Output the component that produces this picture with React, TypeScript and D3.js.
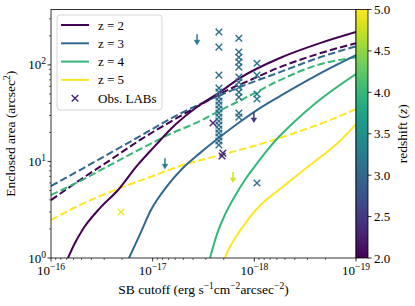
import React from "react";
import * as d3 from "d3";

// ---------- data (SB cutoff [erg s^-1 cm^-2 arcsec^-2], enclosed area [arcsec^2]) ----------
const modelZ2Solid: [number, number][] = [
  [6.81e-17, 1.0], [5.81e-17, 1.43], [4.84e-17, 2.0], [3.3e-17, 3.29], [2.19e-17, 5.06],
  [1.43e-17, 9.0], [9.48e-18, 14.5], [6.04e-18, 23.8], [3.66e-18, 36.6], [2.18e-18, 52.3],
  [1.39e-18, 73.0], [5.6e-19, 118], [2.26e-19, 168], [1.0e-19, 219],
];
const modelZ3Solid: [number, number][] = [
  [1.71e-17, 1.0], [1.33e-17, 1.77], [1.04e-17, 3.14], [7.22e-18, 5.56], [5.04e-18, 8.55],
  [3.43e-18, 12.2], [2.18e-18, 17.9], [1.39e-18, 25.6], [8.81e-19, 35.7], [5.6e-19, 47.5],
  [2.42e-19, 78.4], [1.0e-19, 126],
];
const modelZ4Solid: [number, number][] = [
  [2.73e-18, 1.0], [2.33e-18, 1.77], [1.95e-18, 2.79], [1.55e-18, 4.38], [1.24e-18, 6.42],
  [9.86e-19, 8.96], [7.87e-19, 12.2], [6.0e-19, 17.1], [4.47e-19, 23.3], [2.42e-19, 41.2],
  [1.0e-19, 80.3],
];
const modelZ5Solid: [number, number][] = [
  [1.95e-18, 1.0], [1.74e-18, 1.3], [1.48e-18, 1.73], [1.24e-18, 2.25], [9.86e-19, 3.07],
  [7.87e-19, 3.89], [6.27e-19, 4.71], [4.47e-19, 6.27], [3.18e-19, 8.34], [2.12e-19, 11.6],
  [1.44e-19, 16.3], [1.0e-19, 24.4],
];
const modelZ2Dashed: [number, number][] = [
  [1e-16, 3.98], [5.19e-17, 6.42], [2.63e-17, 10.3], [1.33e-17, 16.7], [6.76e-18, 25.6],
  [3.43e-18, 38.4], [1.74e-18, 56.2], [1.1e-18, 69.6], [5.6e-19, 94.9], [2.26e-19, 132],
  [1e-19, 168],
];
const modelZ3Dashed: [number, number][] = [
  [1e-16, 5.56], [5.19e-17, 8.15], [2.63e-17, 12.2], [1.33e-17, 18.3], [6.76e-18, 27.5],
  [3.43e-18, 39.3], [1.74e-18, 53.5], [1.1e-18, 64.8], [5.6e-19, 84.2], [2.26e-19, 120],
  [1e-19, 156],
];
const modelZ4Dashed: [number, number][] = [
  [1e-16, 4.49], [5.19e-17, 6.27], [2.63e-17, 9.18], [1.33e-17, 13.4], [6.76e-18, 19.2],
  [3.43e-18, 26.2], [2.33e-18, 32.5], [1.29e-18, 44.3], [5.6e-19, 69.6], [2.42e-19, 99.5],
  [1e-19, 120],
];
const modelZ5Dashed: [number, number][] = [
  [1e-16, 2.47], [5.19e-17, 3.54], [2.63e-17, 4.82], [1.06e-17, 6.9], [5.04e-18, 9.18],
  [2.18e-18, 11.6], [8.81e-19, 15.1], [3.56e-19, 20.6], [1.81e-19, 26.8], [1e-19, 34.9],
];

const redshifts = [2, 3, 4, 5];
const solidModels = [modelZ2Solid, modelZ3Solid, modelZ4Solid, modelZ5Solid];
const dashedModels = [modelZ2Dashed, modelZ3Dashed, modelZ4Dashed, modelZ5Dashed];

// observed LABs: [SB, area, redshift]
const obsLABs: [number, number, number][] = [
  [2.05e-17, 2.99, 4.95],
  [2.55e-18, 25.0, 2.3],
  [2.08e-18, 11.4, 2.3],
  [2.04e-18, 12.2, 2.4],
  [9.42e-19, 5.98, 3.1],
  [2.23e-18, 219, 3.1], [2.23e-18, 153, 3.1], [2.23e-18, 78.4, 3.1], [2.23e-18, 57.5, 3.1],
  [2.23e-18, 52.3, 3.1], [2.23e-18, 46.4, 3.1], [2.23e-18, 42.2, 3.1], [2.23e-18, 38.4, 3.1],
  [2.23e-18, 34.9, 3.1], [2.23e-18, 31.7, 3.1], [2.23e-18, 28.8, 3.1], [2.23e-18, 26.2, 3.1],
  [2.23e-18, 23.8, 3.1], [2.23e-18, 21.6, 3.1], [2.23e-18, 19.7, 3.1], [2.23e-18, 17.9, 3.1],
  [2.23e-18, 16.3, 3.1], [2.23e-18, 14.8, 3.1],
  [1.42e-18, 189, 3.1], [1.42e-18, 136, 3.1], [1.42e-18, 120, 3.1], [1.42e-18, 107, 3.1],
  [1.42e-18, 94.9, 3.1], [1.42e-18, 74.8, 3.1], [1.42e-18, 66.4, 3.1], [1.42e-18, 58.9, 3.1],
  [1.42e-18, 52.3, 3.1], [1.42e-18, 46.4, 3.1], [1.42e-18, 31.7, 3.1], [1.42e-18, 28.8, 3.1],
  [9.42e-19, 104, 3.2], [9.42e-19, 78.4, 3.2], [9.42e-19, 49.9, 3.2], [9.42e-19, 44.3, 3.2],
];
// upper limits: [SB, area, redshift]
const upperLimits: [number, number, number][] = [
  [7.57e-18, 10.8, 3.2],
  [1.62e-18, 7.77, 4.8],
  [1.01e-18, 32.5, 2.5],
  [3.66e-18, 208, 3.2],
];

const xTickExps = [-16, -17, -18, -19];
const yTickExps = [0, 1, 2];
const cbTicks = [2.0, 2.5, 3.0, 3.5, 4.0, 4.5, 5.0];

// ---------- layout ----------
const W = 415, H = 306;
const L = 51, R = 356, T = 9.5, B = 258;
const CBW = 12;
const FONT = "'Liberation Serif', 'Times New Roman', serif";

export default function App() {
  const x = d3.scaleLog().domain([1e-16, 1e-19]).range([L, R]);
  const y = d3.scaleLog().domain([1, 375]).range([B, T]);
  const zc = d3.scaleLinear().domain([2, 5]).range([B, T]);
  const color = (z: number) => d3.interpolateViridis((z - 2) / 3);
  const line = d3
    .line<[number, number]>()
    .x((d) => x(d[0]))
    .y((d) => y(d[1]))
    .curve(d3.curveMonotoneX);

  const xMinor: number[] = [];
  for (let e = -17; e >= -19; e--) for (let k = 2; k <= 9; k++) xMinor.push(k * Math.pow(10, e));
  const yMinor: number[] = [];
  for (let e = 0; e <= 2; e++)
    for (let k = 2; k <= 9; k++) {
      const v = k * Math.pow(10, e);
      if (v <= 375) yMinor.push(v);
    }

  const gradStops = d3.range(0, 1.0001, 0.05);

  const legendRows = [...redshifts.map((z) => ({ z, label: `z = ${z}` })), { z: -1, label: "Obs. LABs" }];

  return (
    <svg width={W} height={H} style={{ position: "absolute", left: 0, top: 0, background: "#fff" }} fontFamily={FONT}>
      <defs>
        <clipPath id="plotclip">
          <rect x={L} y={T} width={R - L} height={B - T} />
        </clipPath>
        <linearGradient id="viridis" x1="0" y1="1" x2="0" y2="0">
          {gradStops.map((t) => (
            <stop key={t} offset={t} stopColor={d3.interpolateViridis(t)} />
          ))}
        </linearGradient>
      </defs>
      <rect x={0} y={0} width={W} height={H} fill="#fff" />

      <g clipPath="url(#plotclip)">
        {dashedModels.map((m, i) => (
          <path key={"d" + i} d={line(m) || ""} fill="none" stroke={color(redshifts[i])} strokeWidth={2} strokeDasharray="7.4,3.2" />
        ))}
        {solidModels.map((m, i) => (
          <path key={"s" + i} d={line(m) || ""} fill="none" stroke={color(redshifts[i])} strokeWidth={2} />
        ))}
        {obsLABs.map((o, i) => (
          <path
            key={"o" + i}
            transform={`translate(${x(o[0])},${y(o[1])})`}
            d="M-3.3,-3.3L3.3,3.3M-3.3,3.3L3.3,-3.3"
            stroke={color(o[2])}
            strokeWidth={1.4}
            fill="none"
          />
        ))}
        {upperLimits.map((o, i) => (
          <g key={"u" + i} transform={`translate(${x(o[0])},${y(o[1])})`}>
            <path d="M0,0L0,9" stroke={color(o[2])} strokeWidth={1.5} />
            <path d="M-2.8,6L0,10.5L2.8,6Z" fill={color(o[2])} stroke={color(o[2])} strokeWidth={0.6} />
          </g>
        ))}
      </g>

      {/* frame */}
      <rect x={L} y={T} width={R - L} height={B - T} fill="none" stroke="#000" strokeWidth={0.8} />

      {/* x ticks */}
      {xTickExps.map((e) => {
        const px = x(Math.pow(10, e));
        return (
          <g key={"xt" + e}>
            <line x1={px} x2={px} y1={B} y2={B + 3.5} stroke="#000" strokeWidth={0.8} />
            <text x={px} y={275} fontSize={13} textAnchor="middle">
              10<tspan dy={-5} fontSize={9.5}>{"\u2212" + Math.abs(e)}</tspan>
            </text>
          </g>
        );
      })}
      {xMinor.map((v, i) => (
        <line key={"xm" + i} x1={x(v)} x2={x(v)} y1={B} y2={B + 2} stroke="#000" strokeWidth={0.6} />
      ))}

      {/* y ticks */}
      {yTickExps.map((e) => {
        const py = y(Math.pow(10, e));
        return (
          <g key={"yt" + e}>
            <line x1={L - 3.5} x2={L} y1={py} y2={py} stroke="#000" strokeWidth={0.8} />
            <text x={46} y={py + 4.5} fontSize={13} textAnchor="end">
              10<tspan dy={-5} fontSize={9.5}>{String(e)}</tspan>
            </text>
          </g>
        );
      })}
      {yMinor.map((v, i) => (
        <line key={"ym" + i} x1={L - 2} x2={L} y1={y(v)} y2={y(v)} stroke="#000" strokeWidth={0.6} />
      ))}

      {/* axis labels */}
      <text x={(L + R) / 2} y={294} fontSize={13.5} textAnchor="middle">
        SB cutoff (erg s<tspan dy={-5} fontSize={9.5}>{"\u22121"}</tspan>
        <tspan dy={5}>cm</tspan>
        <tspan dy={-5} fontSize={9.5}>{"\u22122"}</tspan>
        <tspan dy={5}>arcsec</tspan>
        <tspan dy={-5} fontSize={9.5}>{"\u22122"}</tspan>
        <tspan dy={5}>)</tspan>
      </text>
      <text transform={`translate(15,${(T + B) / 2}) rotate(-90)`} fontSize={13.5} textAnchor="middle">
        Enclosed area (arcsec<tspan dy={-5} fontSize={9.5}>2</tspan>
        <tspan dy={5}>)</tspan>
      </text>

      {/* colorbar */}
      <rect x={R} y={T} width={CBW} height={B - T} fill="url(#viridis)" stroke="#000" strokeWidth={0.8} />
      {cbTicks.map((t) => (
        <g key={"cb" + t}>
          <line x1={R + CBW} x2={R + CBW + 3.5} y1={zc(t)} y2={zc(t)} stroke="#000" strokeWidth={0.8} />
          <text x={R + CBW + 6} y={zc(t) + 4.5} fontSize={13}>
            {t.toFixed(1)}
          </text>
        </g>
      ))}
      <text transform={`translate(407,${(T + B) / 2}) rotate(-90)`} fontSize={13.5} textAnchor="middle">
        redshift (<tspan fontStyle="italic">z</tspan>)
      </text>

      {/* legend */}
      <rect x={57} y={15} width={105} height={95} rx={3} fill="#fff" fillOpacity={0.8} stroke="#cccccc" strokeWidth={0.8} />
      {legendRows.map((r, i) => {
        const ly = 25 + i * 18.3;
        return (
          <g key={"lg" + i}>
            {r.z > 0 ? (
              <line x1={61} x2={89} y1={ly} y2={ly} stroke={color(r.z)} strokeWidth={2} />
            ) : (
              <path transform={`translate(75,${ly})`} d="M-3.3,-3.3L3.3,3.3M-3.3,3.3L3.3,-3.3" stroke={color(2.3)} strokeWidth={1.4} />
            )}
            <text x={98} y={ly + 4.5} fontSize={13}>
              {r.label}
            </text>
          </g>
        );
      })}
    </svg>
  );
}
